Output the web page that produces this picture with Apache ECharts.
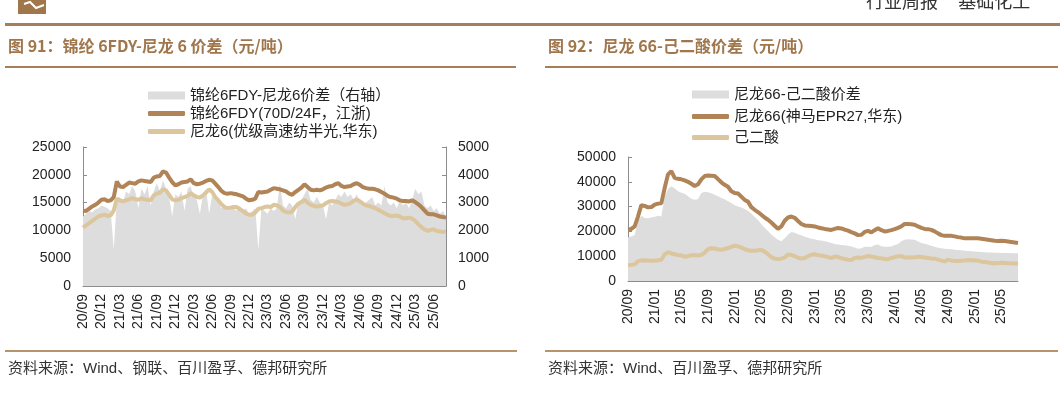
<!DOCTYPE html>
<html><head><meta charset="utf-8">
<script src="https://cdn.jsdelivr.net/npm/echarts@6/dist/echarts.min.js"></script>
<style>html,body{margin:0;padding:0;background:#fff;}#c{width:1064px;height:393px;}</style>
</head><body><div id="c"></div>
<script>
// ---------- DATA ----------
// semi-monthly observations starting 2020-09 (1st and 16th of each month)
const leftStart = [2020, 9];
const rightStart = [2020, 9];
const leftTickMonths = [3, 6, 9, 12];
const rightTickMonths = [1, 5, 9];

const leftSpreadName = '锦纶6FDY-尼龙6价差（右轴）';
const leftFdyName = '锦纶6FDY(70D/24F，江浙)';
const leftN6Name = '尼龙6(优级高速纺半光,华东)';
const rightSpreadName = '尼龙66-己二酸价差';
const rightN66Name = '尼龙66(神马EPR27,华东)';
const rightAdaName = '己二酸';

const fdy = [
13550,13500,13900,14300,14600,15000,15500,15600,15300,15400,
16000,18800,17900,17800,18200,18600,18500,18400,18800,19000,
18900,18800,18700,19500,19700,19800,20600,20400,19500,18700,
18100,18300,18600,18700,18800,19200,18500,18300,18400,18600,
18900,19100,19000,18400,17800,17100,16700,16600,16700,16600,
16500,16300,16100,15700,15400,15500,15700,16900,16800,16900,
17000,17300,17600,17500,17400,17200,17000,16600,16400,16900,
17300,17700,18300,17800,17300,17200,17300,17200,17400,17700,
17900,18000,18300,18500,18000,17800,17900,18000,18300,18500,
18200,17800,17600,17500,17500,17400,17200,16900,16600,16200,
16000,15900,15700,15400,15300,15300,15200,15400,15100,14700,
14200,13600,13000,12900,12900,12700,12500,12400,12300];
const nylon6 = [
10500,10900,11300,11700,12100,12500,12700,12800,12600,12700,
13600,15700,15400,15200,15400,15600,15800,15600,15500,15800,
15600,15500,15400,16300,16600,16800,17400,17200,16400,15600,
15400,15500,15800,16000,16200,16700,16300,16000,15900,16300,
16800,17400,16900,16000,15400,14700,14200,14000,14100,14200,
14200,13800,13500,13000,12800,12800,13200,13900,14000,14200,
14300,14200,14600,14500,14200,13600,13300,13200,13400,14200,
14800,15100,15500,15000,14600,14400,14300,14400,14500,14900,
15200,15300,15200,15100,14800,14600,14700,14900,15300,15600,
15200,14800,14500,14400,14200,14000,13700,13400,13100,12800,
12600,12600,12700,12500,12200,12200,12300,12100,11700,11100,
10600,10200,9900,10100,10200,9900,9800,9700,9800];
const fdySpread = [
2500,2600,2700,2650,2750,2800,2900,2850,2800,2700,
1300,3100,3200,3000,3400,3300,3600,3400,2800,3500,
3300,3600,2900,3400,3700,3400,3800,3500,3200,2500,
3300,3200,3400,2700,3500,3600,3200,3100,2600,3300,
3500,2600,3300,3100,3000,2800,2900,2700,2900,2800,
2700,2900,2700,2800,2600,2700,2800,1300,2800,2700,
2600,2800,2700,2800,3700,2900,2800,3000,2900,2400,
3000,3100,3300,3500,3100,3000,3200,3000,2900,2400,
3000,2900,3100,3300,3200,3400,3200,3300,3100,3300,
3000,2900,3000,3100,3200,2900,3000,2900,3600,3000,
2900,3000,2800,3100,2900,3000,2800,3100,3500,3300,
3400,2900,2800,2900,2700,2800,2600,2700,2500];

const nylon66 = [
20800,21000,22000,26000,30600,30300,29700,29800,30800,31200,
31300,37500,43000,44300,41600,41200,41000,40600,40000,39200,
38300,39000,41000,42300,42500,42400,42300,41100,39800,38800,
38000,36200,35500,35300,34000,32700,32000,29800,28700,27800,
26700,25600,24700,23600,22300,21000,22000,24300,25600,26000,
25500,24200,23000,22400,22300,22200,22000,21600,21300,21000,
20800,20600,21000,21400,21200,20700,20300,19700,19200,18500,
18600,19800,20200,19600,20500,21300,20500,20000,20200,20500,
20900,21400,22000,23000,23000,22900,22700,22000,21400,21000,
20900,20600,20000,19200,18500,18200,18200,18200,18000,17700,
17500,17200,17200,17200,17200,17200,17000,16800,16600,16400,
16200,16100,16200,16100,15900,15700,15500,15300];
const adipic = [
6400,6500,6700,8000,8300,8400,8300,8200,8200,8400,
8600,10800,11600,11100,10800,10500,10400,9800,10000,10400,
10500,10300,10600,11400,12800,13200,13100,12800,12600,12900,
13300,13800,14200,14000,13500,12800,12400,12200,12200,12400,
12600,11800,10800,9600,9000,8900,9000,9500,10700,10500,
10000,9400,9100,9300,10000,10600,10800,10400,10300,10000,
9600,9200,9900,9700,9200,8900,8600,8500,9300,9500,
9300,9700,10100,9900,9600,9300,9200,8900,8800,9300,
9600,10000,10000,9500,9500,9500,9600,9800,9700,9500,
9300,9100,9000,8600,8200,7900,8600,8300,8100,8100,
8200,8300,8500,8400,8400,8200,7800,7700,7500,7200,
7300,7200,7400,7300,7200,7200,7100,7100];
const n66Spread = [
17600,17900,18500,24000,26300,25400,25300,25600,25900,26300,
26000,34000,37000,38200,37400,36200,35600,35200,34200,33200,
32800,33000,35500,36000,35800,35400,34800,34200,33500,33000,
32200,31500,30500,30000,29600,29000,28200,27200,25800,24600,
22900,21500,20200,18700,17600,16600,16000,17200,18600,19800,
19500,18900,18400,17800,17400,17000,16800,16400,16300,16000,
15700,15300,14900,14700,14500,14400,14200,13900,13500,13000,
13200,13800,13800,13700,14500,14700,14000,13800,13800,13900,
14500,14900,16000,16600,16800,16700,16600,15900,15300,15000,
14600,14200,13800,13400,13200,13000,12900,12800,12600,12500,
12400,12200,12100,12000,11900,11800,11700,11600,11500,11500,
11400,11400,11300,11300,11300,11200,11200,11200];

// category dates (1st / 16th of each month)
function buildCats(start, n) {
  const a = [];
  for (let i = 0; i < n; i++) {
    const mi = start[1] - 1 + Math.floor(i / 2);
    const y = start[0] + Math.floor(mi / 12);
    const m = mi % 12 + 1;
    a.push(y + '-' + String(m).padStart(2, '0') + '-' + (i % 2 ? '16' : '01'));
  }
  return a;
}
const leftCats = buildCats(leftStart, fdy.length);
const rightCats = buildCats(rightStart, nylon66.length);

// ---------- STYLE ----------
const DARK = '#b08457';
const TAN = '#dcc69e';
const GREY = '#dddddd';
const AXIS = '#8c8c8c';
const TXT = '#222';
const FONT = '"Liberation Sans", Arial, "Noto Sans CJK SC", sans-serif';
const BROWN = '#a77f56';

function tickFn(months) {
  return function (idx, val) {
    return val.slice(8) === '01' && months.indexOf(+val.slice(5, 7)) >= 0;
  };
}
function fmt(val) { return val.slice(2, 4) + '/' + val.slice(5, 7); }

function xAxisCfg(gridIndex, cats, months) {
  return {
    type: 'category', gridIndex: gridIndex, data: cats, boundaryGap: false,
    axisLine: { lineStyle: { color: AXIS, width: 1 } },
    axisTick: { inside: true, length: 4, interval: tickFn(months), lineStyle: { color: AXIS } },
    axisLabel: { interval: tickFn(months), rotate: 90, formatter: fmt, margin: 8,
      color: TXT, fontSize: 14, fontFamily: FONT },
    splitLine: { show: false }
  };
}
function yAxisCfg(gridIndex, max, interval, pos) {
  return {
    type: 'value', gridIndex: gridIndex, min: 0, max: max, interval: interval, position: pos,
    axisLine: { show: true, lineStyle: { color: AXIS, width: 1 } },
    axisTick: { show: true, inside: true, length: 4, lineStyle: { color: AXIS } },
    axisLabel: { color: TXT, fontSize: 14, fontFamily: FONT, margin: 12, formatter: function (v) { return String(v); } },
    splitLine: { show: false }
  };
}
const legText = { color: TXT, fontSize: 15, fontFamily: FONT };

const chart = echarts.init(document.getElementById('c'), null, { renderer: 'canvas' });
chart.setOption({
  animation: false,
  backgroundColor: '#fff',
  grid: [
    { left: 83, right: 618, top: 147, bottom: 107 },
    { left: 628, right: 46, top: 157, bottom: 112 }
  ],
  xAxis: [xAxisCfg(0, leftCats, leftTickMonths), xAxisCfg(1, rightCats, rightTickMonths)],
  yAxis: [
    yAxisCfg(0, 25000, 5000, 'left'),
    yAxisCfg(0, 5000, 1000, 'right'),
    yAxisCfg(1, 50000, 10000, 'left')
  ],
  legend: [
    { data: [leftSpreadName], left: 143, top: 83, icon: 'rect', itemWidth: 37, itemHeight: 8, textStyle: legText, selectedMode: false },
    { data: [leftFdyName, leftN6Name], orient: 'vertical', left: 143, top: 101, icon: 'roundRect', itemWidth: 37, itemHeight: 5, itemGap: 3, textStyle: legText, selectedMode: false },
    { data: [rightSpreadName], left: 687, top: 82, icon: 'rect', itemWidth: 37, itemHeight: 8, textStyle: legText, selectedMode: false },
    { data: [rightN66Name, rightAdaName], orient: 'vertical', left: 687, top: 104, icon: 'roundRect', itemWidth: 37, itemHeight: 5, itemGap: 6, textStyle: legText, selectedMode: false }
  ],
  series: [
    { name: leftSpreadName, type: 'line', xAxisIndex: 0, yAxisIndex: 1, data: fdySpread, symbol: 'none',
      lineStyle: { width: 0, color: GREY }, itemStyle: { color: GREY }, areaStyle: { color: GREY, opacity: 1 } },
    { name: leftFdyName, type: 'line', xAxisIndex: 0, yAxisIndex: 0, data: fdy, symbol: 'none',
      lineStyle: { width: 4, color: DARK }, itemStyle: { color: DARK } },
    { name: leftN6Name, type: 'line', xAxisIndex: 0, yAxisIndex: 0, data: nylon6, symbol: 'none',
      lineStyle: { width: 4, color: TAN }, itemStyle: { color: TAN } },
    { name: rightSpreadName, type: 'line', xAxisIndex: 1, yAxisIndex: 2, data: n66Spread, symbol: 'none',
      lineStyle: { width: 0, color: GREY }, itemStyle: { color: GREY }, areaStyle: { color: GREY, opacity: 1 } },
    { name: rightN66Name, type: 'line', xAxisIndex: 1, yAxisIndex: 2, data: nylon66, symbol: 'none',
      lineStyle: { width: 4, color: DARK }, itemStyle: { color: DARK } },
    { name: rightAdaName, type: 'line', xAxisIndex: 1, yAxisIndex: 2, data: adipic, symbol: 'none',
      lineStyle: { width: 4, color: TAN }, itemStyle: { color: TAN } }
  ],
  graphic: [
    { type: 'rect', shape: { x: 18, y: 0, width: 28, height: 14 }, style: { fill: '#a0774b' } },
    { type: 'polyline', shape: { points: [[24, 4], [30, 2], [36, 8], [44, 5]] }, style: { stroke: '#fff', lineWidth: 2, fill: null } },
    { type: 'text', left: 866, top: -8, style: { text: '行业周报     基础化工', fill: '#333', font: '18px "Noto Sans CJK SC", sans-serif' } },
    { type: 'rect', shape: { x: 5, y: 23, width: 1055, height: 3 }, style: { fill: BROWN } },
    { type: 'text', left: 8, top: 38, style: { text: '图 91：锦纶 6FDY-尼龙 6 价差（元/吨）', fill: '#a0764c', font: 'bold 16px "Noto Sans CJK SC", sans-serif' } },
    { type: 'text', left: 548, top: 38, style: { text: '图 92：尼龙 66-己二酸价差（元/吨）', fill: '#a0764c', font: 'bold 16px "Noto Sans CJK SC", sans-serif' } },
    { type: 'rect', shape: { x: 5, y: 66, width: 511, height: 2 }, style: { fill: BROWN } },
    { type: 'rect', shape: { x: 545, y: 66, width: 513, height: 2 }, style: { fill: BROWN } },
    { type: 'rect', shape: { x: 5, y: 350, width: 512, height: 2 }, style: { fill: '#b8946e' } },
    { type: 'rect', shape: { x: 545, y: 350, width: 513, height: 2 }, style: { fill: '#b8946e' } },
    { type: 'text', left: 8, top: 361, style: { text: '资料来源：Wind、钢联、百川盈孚、德邦研究所', fill: '#333', font: '15px "Liberation Sans", "Noto Sans CJK SC", sans-serif' } },
    { type: 'text', left: 548, top: 361, style: { text: '资料来源：Wind、百川盈孚、德邦研究所', fill: '#333', font: '15px "Liberation Sans", "Noto Sans CJK SC", sans-serif' } }
  ]
});
</script>
</body></html>
